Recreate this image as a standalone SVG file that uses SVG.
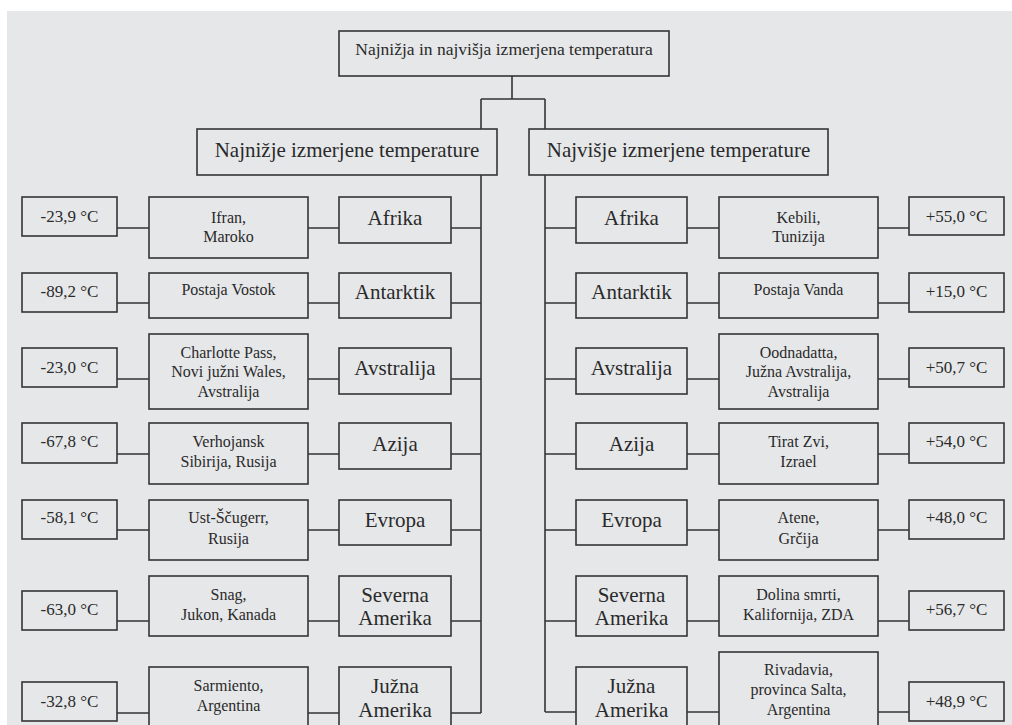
<svg xmlns="http://www.w3.org/2000/svg" width="1012" height="725" viewBox="0 0 1012 725">
<style>
.bg{fill:#e6e7e9}
.box{fill:#e6e7e9;stroke:#353535;stroke-width:1.6}
.ln{fill:none;stroke:#353535;stroke-width:1.6}
.txt text{fill:#2a2a2a;text-anchor:middle}
.h{font-size:21px}
.c{font-size:21px}
.l{font-size:16px}
.tp{font-size:17px}
.ti{font-size:17.5px}
</style>
<rect x="0" y="0" width="1012" height="725" fill="#ffffff"/>
<rect class="bg" x="7" y="11" width="1005" height="714"/>
<g id="connectors">
<path class="ln" d="M512,76V99M481,99H545M481,99V713M545,99V712"/>
<path class="ln" d="M117,228H149M308,228H339M451,228H481
M117,303H149M308,303H339M451,303H481
M117,379H149M308,379H339M451,379H481
M117,454H149M308,454H339M451,454H481
M117,530H149M308,530H339M451,530H481
M117,621H149M308,621H339M451,621H481
M117,713H149M308,713H339M451,713H481"/>
<path class="ln" d="M545,228H576M687,228H719M878,228H909
M545,303H576M687,303H719M878,303H909
M545,379H576M687,379H719M878,379H909
M545,454H576M687,454H719M878,454H909
M545,530H576M687,530H719M878,530H909
M545,621H576M687,621H719M878,621H909
M545,712H576M687,712H719M878,712H909"/>
</g>
<g class="txt" font-family="'Liberation Serif', 'DejaVu Serif', serif">
<g id="root"><rect class="box" x="339" y="31" width="330" height="45"/><text class="ti" x="504" y="55">Najnižja in najvišja izmerjena temperatura</text></g>
<g id="min-header"><rect class="box" x="197" y="129" width="300" height="46"/><text class="h" x="347" y="157">Najnižje izmerjene temperature</text></g>
<g id="max-header"><rect class="box" x="529" y="129" width="299" height="46"/><text class="h" x="678.5" y="157">Najvišje izmerjene temperature</text></g>

<g id="min-afrika">
<rect class="box" x="339" y="197" width="112" height="46"/><text class="c" x="395" y="225">Afrika</text>
<rect class="box" x="149" y="197" width="159" height="61"/><text class="l" x="228.5" y="223">Ifran,</text><text class="l" x="228.5" y="242">Maroko</text>
<rect class="box" x="22" y="197" width="95" height="39"/><text class="tp" x="69.5" y="222">-23,9 °C</text>
</g>
<g id="min-antarktik">
<rect class="box" x="339" y="273" width="112" height="45"/><text class="c" x="395" y="299">Antarktik</text>
<rect class="box" x="149" y="273" width="159" height="45"/><text class="l" x="228.5" y="295">Postaja Vostok</text>
<rect class="box" x="22" y="273" width="95" height="39"/><text class="tp" x="69.5" y="297">-89,2 °C</text>
</g>
<g id="min-avstralija">
<rect class="box" x="339" y="348" width="112" height="46"/><text class="c" x="395" y="375">Avstralija</text>
<rect class="box" x="149" y="334" width="159" height="75"/><text class="l" x="228.5" y="358">Charlotte Pass,</text><text class="l" x="228.5" y="377">Novi južni Wales,</text><text class="l" x="228.5" y="397">Avstralija</text>
<rect class="box" x="22" y="348" width="95" height="39"/><text class="tp" x="69.5" y="373">-23,0 °C</text>
</g>
<g id="min-azija">
<rect class="box" x="339" y="423" width="112" height="46"/><text class="c" x="395" y="451">Azija</text>
<rect class="box" x="149" y="423" width="159" height="61"/><text class="l" x="228.5" y="447">Verhojansk</text><text class="l" x="228.5" y="467">Sibirija, Rusija</text>
<rect class="box" x="22" y="423" width="95" height="40"/><text class="tp" x="69.5" y="447">-67,8 °C</text>
</g>
<g id="min-evropa">
<rect class="box" x="339" y="500" width="112" height="45"/><text class="c" x="395" y="527">Evropa</text>
<rect class="box" x="149" y="500" width="159" height="60"/><text class="l" x="228.5" y="523">Ust-Ščugerr,</text><text class="l" x="228.5" y="544">Rusija</text>
<rect class="box" x="22" y="500" width="95" height="39"/><text class="tp" x="69.5" y="523">-58,1 °C</text>
</g>
<g id="min-severna-amerika">
<rect class="box" x="339" y="576" width="112" height="60"/><text class="c" x="395" y="602">Severna</text><text class="c" x="395" y="625">Amerika</text>
<rect class="box" x="149" y="576" width="159" height="60"/><text class="l" x="228.5" y="600">Snag,</text><text class="l" x="228.5" y="620">Jukon, Kanada</text>
<rect class="box" x="22" y="591" width="95" height="39"/><text class="tp" x="69.5" y="615">-63,0 °C</text>
</g>
<g id="min-juzna-amerika">
<rect class="box" x="339" y="667" width="112" height="80"/><text class="c" x="395" y="693">Južna</text><text class="c" x="395" y="717">Amerika</text>
<rect class="box" x="149" y="667" width="159" height="80"/><text class="l" x="228.5" y="691">Sarmiento,</text><text class="l" x="228.5" y="711">Argentina</text>
<rect class="box" x="22" y="682" width="95" height="39"/><text class="tp" x="69.5" y="707">-32,8 °C</text>
</g>

<g id="max-afrika">
<rect class="box" x="576" y="197" width="111" height="46"/><text class="c" x="631.5" y="225">Afrika</text>
<rect class="box" x="719" y="197" width="159" height="61"/><text class="l" x="798.5" y="223">Kebili,</text><text class="l" x="798.5" y="242">Tunizija</text>
<rect class="box" x="909" y="197" width="95" height="38"/><text class="tp" x="956.5" y="222">+55,0 °C</text>
</g>
<g id="max-antarktik">
<rect class="box" x="576" y="273" width="111" height="45"/><text class="c" x="631.5" y="299">Antarktik</text>
<rect class="box" x="719" y="273" width="159" height="45"/><text class="l" x="798.5" y="295">Postaja Vanda</text>
<rect class="box" x="909" y="273" width="95" height="39"/><text class="tp" x="956.5" y="297">+15,0 °C</text>
</g>
<g id="max-avstralija">
<rect class="box" x="576" y="348" width="111" height="46"/><text class="c" x="631.5" y="375">Avstralija</text>
<rect class="box" x="719" y="334" width="159" height="75"/><text class="l" x="798.5" y="358">Oodnadatta,</text><text class="l" x="798.5" y="377">Južna Avstralija,</text><text class="l" x="798.5" y="397">Avstralija</text>
<rect class="box" x="909" y="348" width="95" height="39"/><text class="tp" x="956.5" y="373">+50,7 °C</text>
</g>
<g id="max-azija">
<rect class="box" x="576" y="423" width="111" height="46"/><text class="c" x="631.5" y="451">Azija</text>
<rect class="box" x="719" y="423" width="159" height="61"/><text class="l" x="798.5" y="447">Tirat Zvi,</text><text class="l" x="798.5" y="467">Izrael</text>
<rect class="box" x="909" y="423" width="95" height="40"/><text class="tp" x="956.5" y="447">+54,0 °C</text>
</g>
<g id="max-evropa">
<rect class="box" x="576" y="500" width="111" height="45"/><text class="c" x="631.5" y="527">Evropa</text>
<rect class="box" x="719" y="500" width="159" height="60"/><text class="l" x="798.5" y="523">Atene,</text><text class="l" x="798.5" y="544">Grčija</text>
<rect class="box" x="909" y="500" width="95" height="39"/><text class="tp" x="956.5" y="523">+48,0 °C</text>
</g>
<g id="max-severna-amerika">
<rect class="box" x="576" y="576" width="111" height="60"/><text class="c" x="631.5" y="602">Severna</text><text class="c" x="631.5" y="625">Amerika</text>
<rect class="box" x="719" y="576" width="159" height="60"/><text class="l" x="798.5" y="600">Dolina smrti,</text><text class="l" x="798.5" y="620">Kalifornija, ZDA</text>
<rect class="box" x="909" y="591" width="95" height="39"/><text class="tp" x="956.5" y="615">+56,7 °C</text>
</g>
<g id="max-juzna-amerika">
<rect class="box" x="576" y="667" width="111" height="80"/><text class="c" x="631.5" y="693">Južna</text><text class="c" x="631.5" y="717">Amerika</text>
<rect class="box" x="719" y="652" width="159" height="95"/><text class="l" x="798.5" y="675">Rivadavia,</text><text class="l" x="798.5" y="695">provinca Salta,</text><text class="l" x="798.5" y="715">Argentina</text>
<rect class="box" x="909" y="682" width="95" height="39"/><text class="tp" x="956.5" y="707">+48,9 °C</text>
</g>
</g>
</svg>
